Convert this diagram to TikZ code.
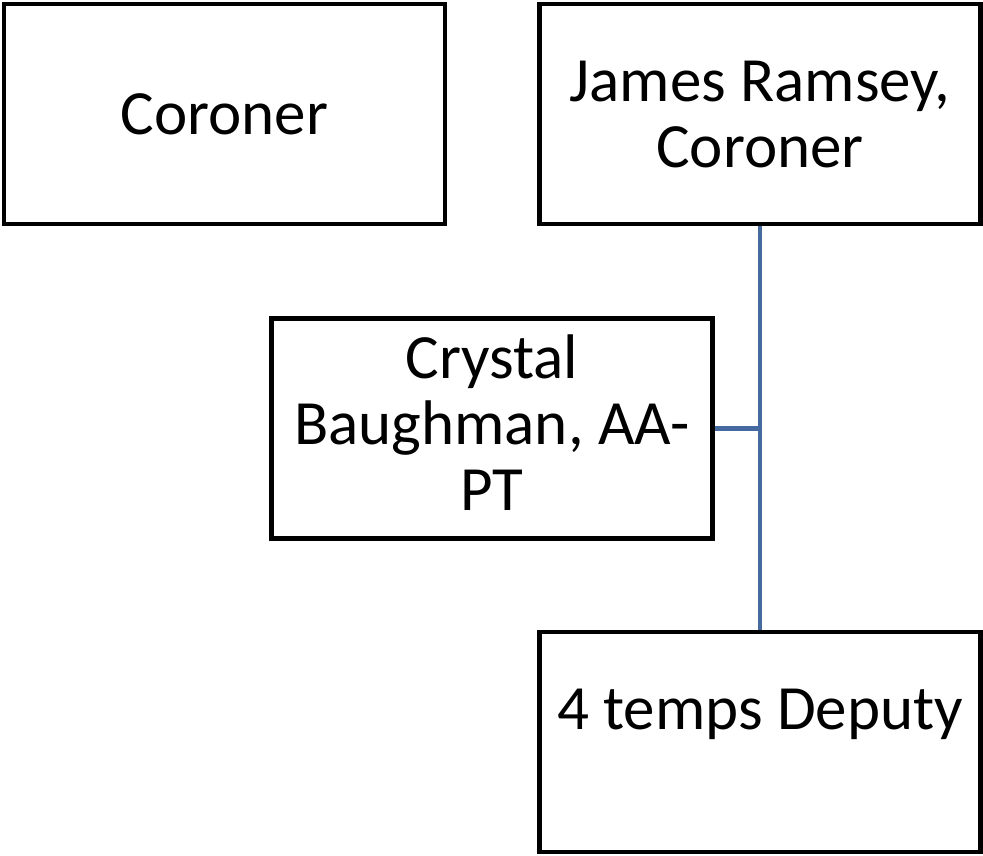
\documentclass[tikz,border=0pt]{standalone}
\usepackage{fontspec}
\setmainfont{Carlito}
\usepackage{xcolor}
\usetikzlibrary{positioning}

\definecolor{linkblue}{RGB}{68,106,160}

\begin{document}
\begin{tikzpicture}[x=1pt, y=-1pt,
                box/.style={draw, line width=4.5pt, minimum width=441pt, minimum height=220pt,
                    align=center, inner sep=0pt, font=\fontsize{63}{66}\selectfont},
                link/.style={draw=linkblue, line width=4.5pt}]
                \useasboundingbox (0,0) rectangle (983,855);

                \node[box] (coroner) at (224.5,114) {Coroner};
                \node[box] (ramsey) at (760,114) {James Ramsey,\\Coroner};
                \node[box, text depth=12pt] (crystal) at (492,428.5) {Crystal\\Baughman, AA-\\PT};
                \node[box] (deputy) at (760,742) {4 temps Deputy\\\mbox{}};

                \coordinate (joint) at (ramsey.south |- crystal.east);
                \draw[link] (ramsey.south) -- (deputy.north);
                \draw[link] (crystal.east) -- (joint);
            \end{tikzpicture}
\end{document}
